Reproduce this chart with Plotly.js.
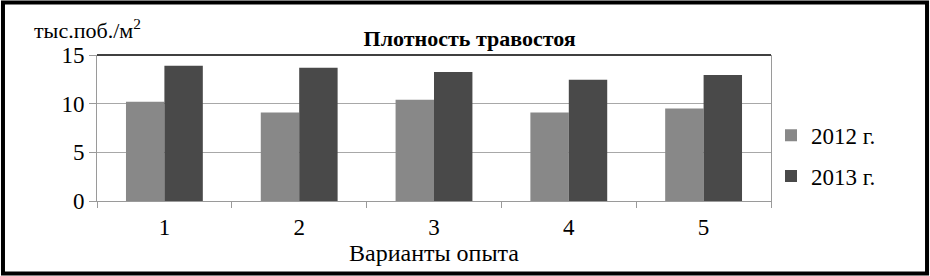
<!DOCTYPE html>
<html><head><meta charset="utf-8">
<script src="https://cdn.plot.ly/plotly-3.0.1.min.js"></script>
<style>html,body{margin:0;padding:0;background:#fff}#c{width:930px;height:276px}</style>
</head><body><div id="c"></div>
<script>
const categories = ["1", "2", "3", "4", "5"];
const series2012 = [10.2, 9.1, 10.4, 9.1, 9.5];
const series2013 = [13.9, 13.7, 13.25, 12.45, 12.95];
const seriesNames = ["2012 г.", "2013 г."];
const yTicks = [0, 5, 10, 15];

const traces = [
  {type: "bar", x: categories, y: series2012, name: seriesNames[0], marker: {color: "#888888"}, legendgroup: "a"},
  {type: "bar", x: categories, y: series2013, name: seriesNames[1], marker: {color: "#494949"}, legendgroup: "b"}
];
const layout = {
  width: 930, height: 276,
  margin: {l: 97, r: 159, t: 55, b: 75},
  paper_bgcolor: "#fff", plot_bgcolor: "#fff",
  barmode: "group", bargap: 0.43, bargroupgap: 0,
  title: {text: "<b>Плотность травостоя</b>", font: {family: "Liberation Serif", size: 22, color: "#000"},
          xref: "container", x: 0.505, xanchor: "center", yref: "container", y: 0.862, yanchor: "middle"},
  xaxis: {type: "category", showline: true, linecolor: "#9a9a9a", linewidth: 1,
          ticks: "outside", tickson: "boundaries", ticklen: 6, tickcolor: "#9a9a9a",
          tickfont: {family: "Liberation Serif", size: 23, color: "#000"}, showgrid: false, ticklabelstandoff: 5,
          title: {text: "Варианты опыта", font: {family: "Liberation Serif", size: 24, color: "#000"}, standoff: 4}},
  yaxis: {range: [0, 15], tickvals: yTicks, showline: true, mirror: true, linecolor: "#9a9a9a",
          ticks: "outside", ticklen: 7, tickcolor: "#9a9a9a", gridcolor: "#a8a8a8", gridwidth: 1.5,
          zeroline: false, tickfont: {family: "Liberation Serif", size: 23, color: "#000"}},
  legend: {x: 1.0, xanchor: "left", y: 0.31, yanchor: "middle", traceorder: "grouped",
           tracegroupgap: 8, font: {family: "Liberation Serif", size: 23, color: "#000"}, bgcolor: "rgba(0,0,0,0)"},
  annotations: [
    {text: "тыс.поб./м<sup>2</sup>", xref: "paper", yref: "paper", x: -0.097, xanchor: "left",
     y: 1.175, yanchor: "middle", showarrow: false, font: {family: "Liberation Serif", size: 22, color: "#000"}}
  ],
  shapes: [
    {type: "line", xref: "paper", yref: "paper", x0: 0, x1: 1, y0: 1, y1: 1, line: {color: "#000", width: 1.5}},
    {type: "rect", xref: "paper", yref: "paper", x0: -0.1395, x1: 1.2315, y0: -0.497, y1: 1.359,
     line: {color: "#000", width: 4}}
  ]
};
Plotly.newPlot("c", traces, layout, {staticPlot: true});
</script></body></html>
